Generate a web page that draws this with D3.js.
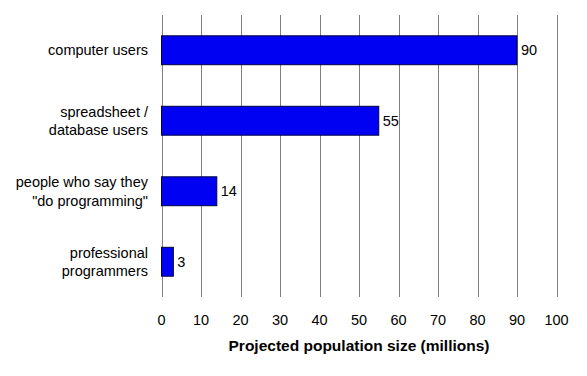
<!DOCTYPE html>
<html>
<head>
    <meta charset="utf-8">
    <title>Projected population size</title>
    <script src="https://d3js.org/d3.v7.min.js"></script>
    <style>
        body { margin: 0; background: #fff; }
        text { font-family: "Liberation Sans", Arial, sans-serif; }
    </style>
</head>
<body>
    <script>
        // data
        const categories = [
            ["computer users"],
            ["spreadsheet /", "database users"],
            ["people who say they", "\"do programming\""],
            ["professional", "programmers"]
        ];
        const values = [90, 55, 14, 3];
        const ticks = [0, 10, 20, 30, 40, 50, 60, 70, 80, 90, 100];
        const xTitle = "Projected population size (millions)";

        const width = 587, height = 376;
        const plotLeft = 161.5, plotRight = 556.5, plotTop = 15, plotBottom = 297;

        const svg = d3.select("body").append("svg")
            .attr("width", width)
            .attr("height", height);

        const x = d3.scaleLinear().domain([0, 100]).range([plotLeft, plotRight]);
        const y = d3.scaleBand()
            .domain(d3.range(values.length))
            .range([plotTop, plotBottom])
            .paddingInner(0.59)
            .paddingOuter(0.295);

        // vertical grid lines
        svg.selectAll("line.grid")
            .data(ticks)
            .enter().append("line")
            .attr("class", "grid")
            .attr("x1", d => Math.round(x(d)) + 0.5)
            .attr("x2", d => Math.round(x(d)) + 0.5)
            .attr("y1", plotTop)
            .attr("y2", plotBottom)
            .attr("stroke", "#808080")
            .attr("stroke-width", 1);

        // bars
        svg.selectAll("rect.bar")
            .data(values)
            .enter().append("rect")
            .attr("class", "bar")
            .attr("x", x(0))
            .attr("y", (d, i) => y(i))
            .attr("width", d => x(d) - x(0))
            .attr("height", y.bandwidth())
            .attr("fill", "#0000f2")
            .attr("stroke", "#000040")
            .attr("stroke-width", 1);

        // value labels
        svg.selectAll("text.val")
            .data(values)
            .enter().append("text")
            .attr("class", "val")
            .attr("x", d => x(d) + 4)
            .attr("y", (d, i) => y(i) + y.bandwidth() / 2)
            .attr("dy", "0.35em")
            .attr("font-size", 14.5)
            .attr("fill", "#000")
            .text(d => d);

        // category labels
        svg.selectAll("text.cat")
            .data(categories)
            .enter().append("text")
            .attr("class", "cat")
            .attr("text-anchor", "end")
            .attr("font-size", 14.5)
            .attr("fill", "#000")
            .each(function (lines, i) {
                const cy = y(i) + y.bandwidth() / 2;
                const lh = 18.5;
                const y0 = cy - (lines.length - 1) * lh / 2;
                d3.select(this).selectAll("tspan")
                    .data(lines)
                    .enter().append("tspan")
                    .attr("x", 148)
                    .attr("y", (d, j) => y0 + j * lh)
                    .attr("dy", "0.35em")
                    .text(d => d);
            });

        // tick labels
        svg.selectAll("text.tick")
            .data(ticks)
            .enter().append("text")
            .attr("class", "tick")
            .attr("x", d => x(d))
            .attr("y", 320)
            .attr("dy", "0.35em")
            .attr("text-anchor", "middle")
            .attr("font-size", 14.5)
            .attr("fill", "#000")
            .text(d => d);

        // axis title
        svg.append("text")
            .attr("x", (plotLeft + plotRight) / 2)
            .attr("y", 346)
            .attr("dy", "0.35em")
            .attr("text-anchor", "middle")
            .attr("font-size", 15.5)
            .attr("font-weight", "bold")
            .attr("fill", "#000")
            .text(xTitle);
    </script>
</body>
</html>
